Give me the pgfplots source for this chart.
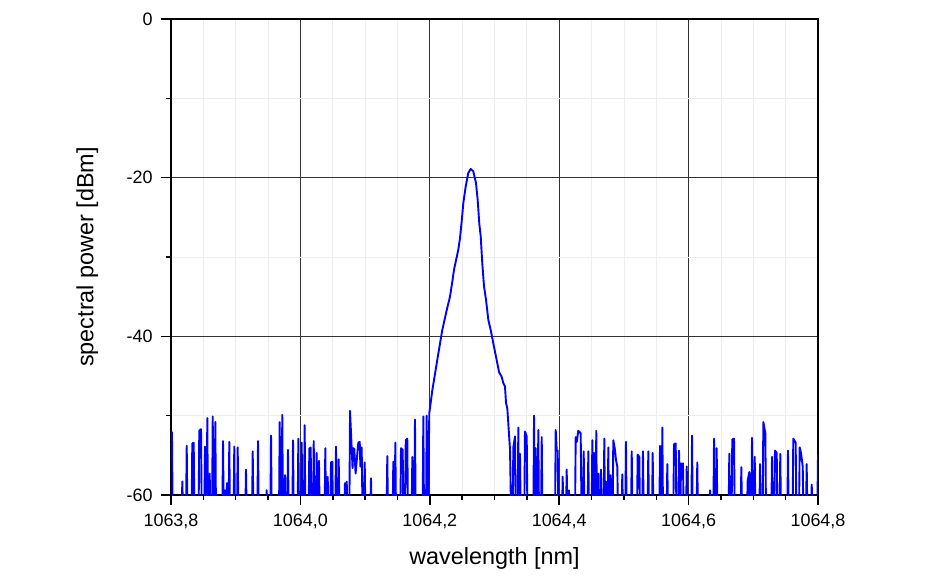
\documentclass[border=0pt]{standalone}
\usepackage{pgfplots}
\pgfplotsset{compat=1.18}
\usepackage{fontspec}
\setmainfont{Liberation Sans}
\definecolor{spec}{RGB}{0,0,255}
\begin{document}
\begin{tikzpicture}
\useasboundingbox (0,0) rectangle (950bp,578bp);
\begin{axis}[
  at={(171bp,83bp)}, anchor=south west,
  scale only axis, width=647bp, height=476bp,
  xmin=1063.8, xmax=1064.8, ymin=-60, ymax=0,
  xtick={1063.8,1064.0,1064.2,1064.4,1064.6,1064.8},
  xticklabels={{1063,8},{1064,0},{1064,2},{1064,4},{1064,6},{1064,8}},
  ytick={-60,-40,-20,0}, yticklabels={-60,-40,-20,0},
  minor x tick num=3, minor y tick num=1,
  grid=both,
  major grid style={black!80, line width=0.9bp},
  minor grid style={black!7, line width=0.8bp},
  tick align=outside, tick pos=left,
  major tick length=10bp, minor tick length=5bp,
  every tick/.style={black, line width=1.5bp},
  axis line style={line width=1.7bp},
  ticklabel style={font=\fontsize{18}{21}\selectfont},
  xticklabel style={yshift=-5bp},
  yticklabel style={xshift=-5bp},
  xlabel={wavelength [nm]}, ylabel={spectral power [dBm]},
  label style={font=\fontsize{23.5}{27}\selectfont},
  xlabel style={at={(axis description cs:0.5,-0.145)}, anchor=base},
  ylabel style={at={(axis description cs:-0.1201,0.5)}, anchor=base},
]
\addplot[spec, line width=1.9bp, line join=round] coordinates {
(1063.8015,-52.0)(1063.8025,-62)
(1063.8165,-62)(1063.8175,-58.3)(1063.8185,-62)
(1063.8233,-62)(1063.8243,-53.8)(1063.8253,-62)
(1063.8319,-62)(1063.8329,-53.5)(1063.8351,-53.4)(1063.8361,-62)
(1063.8427,-62)(1063.8437,-51.9)(1063.8464,-51.7)(1063.8474,-62)
(1063.8516,-62)(1063.8526,-53.9)(1063.8536,-62)
(1063.8551,-62)(1063.8561,-50.3)(1063.8571,-62)
(1063.8588,-62)(1063.8598,-57.3)(1063.8608,-62)
(1063.8635,-62)(1063.8645,-50.1)(1063.8655,-62)
(1063.8675,-62)(1063.8685,-50.8)(1063.8695,-62)
(1063.8794,-62)(1063.8804,-53.2)(1063.8814,-62)
(1063.8825,-62)(1063.8835,-59.4)(1063.8845,-62)
(1063.8856,-62)(1063.8866,-58.5)(1063.8876,-62)
(1063.8891,-62)(1063.8901,-53.3)(1063.8911,-62)
(1063.8968,-62)(1063.8978,-53.9)(1063.8988,-62)
(1063.9021,-62)(1063.9031,-54.0)(1063.9041,-62)
(1063.9149,-62)(1063.9159,-56.8)(1063.9169,-62)
(1063.9253,-62)(1063.9263,-54.5)(1063.9273,-62)
(1063.9335,-62)(1063.9345,-53.2)(1063.9355,-62)
(1063.9469,-62)(1063.9479,-59.4)(1063.9489,-62)
(1063.9536,-62)(1063.9546,-52.5)(1063.9556,-62)
(1063.9670,-62)(1063.9680,-50.8)(1063.9690,-62)
(1063.9710,-62)(1063.9720,-49.9)(1063.9730,-62)
(1063.9752,-62)(1063.9762,-57.5)(1063.9772,-62)
(1063.9798,-62)(1063.9808,-54.3)(1063.9818,-62)
(1063.9876,-62)(1063.9886,-53.1)(1063.9896,-62)
(1063.9958,-62)(1063.9968,-52.9)(1063.9978,-62)
(1064.0010,-62)(1064.0020,-53.4)(1064.0030,-62)
(1064.0056,-62)(1064.0066,-51.2)(1064.0076,-62)
(1064.0128,-62)(1064.0138,-54.1)(1064.0148,-57)(1064.0159,-54.0)(1064.0169,-62)
(1064.0196,-62)(1064.0206,-53.2)(1064.0216,-62)
(1064.0242,-62)(1064.0252,-54.7)(1064.0262,-62)
(1064.0277,-62)(1064.0287,-55.7)(1064.0297,-62)
(1064.0375,-62)(1064.0385,-54.1)(1064.0395,-62)
(1064.0412,-62)(1064.0422,-57.7)(1064.0432,-62)
(1064.0463,-62)(1064.0473,-55.9)(1064.0493,-55.8)(1064.0503,-62)
(1064.0540,-62)(1064.0550,-53.9)(1064.0560,-62)
(1064.0582,-62)(1064.0592,-55.5)(1064.0602,-62)
(1064.0679,-62)(1064.0689,-58.5)(1064.0699,-62)
(1064.0706,-62)(1064.0716,-58.3)(1064.0726,-62)
(1064.0757,-62)(1064.0767,-49.4)(1064.0806,-56.6)(1064.0818,-54.1)(1064.0833,-54.2)(1064.0853,-57.3)(1064.0895,-53.4)(1064.0917,-53.3)(1064.0927,-56.4)(1064.0947,-54.0)(1064.0960,-62)
(1064.0984,-62)(1064.0994,-55.9)(1064.1004,-62)
(1064.1081,-62)(1064.1091,-57.9)(1064.1101,-62)
(1064.1333,-62)(1064.1343,-55.1)(1064.1353,-62)
(1064.1426,-62)(1064.1436,-55.8)(1064.1446,-62)
(1064.1457,-62)(1064.1467,-53.4)(1064.1477,-62)
(1064.1545,-62)(1064.1555,-54.1)(1064.1581,-54.3)(1064.1591,-62)
(1064.1618,-62)(1064.1628,-53.1)(1064.1652,-52.9)(1064.1662,-62)
(1064.1720,-62)(1064.1730,-55.2)(1064.1740,-62)
(1064.1761,-62)(1064.1771,-50.5)(1064.1781,-62)
(1064.1890,-62)(1064.1900,-50.1)(1064.1910,-62)
(1064.1942,-62)(1064.1952,-50.0)(1064.1962,-62)
(1064.1975,-62)(1064.1985,-54.5)(1064.1992,-49.7)(1064.2039,-46.8)(1064.2107,-43.4)(1064.2158,-40.9)(1064.2193,-39.2)(1064.2261,-36.7)(1064.2312,-35.0)(1064.2348,-33.1)(1064.2374,-31.6)(1064.2440,-29.1)(1064.2467,-27.6)(1064.2493,-25.5)(1064.2518,-23.2)(1064.2555,-21.1)(1064.2595,-19.4)(1064.2632,-18.9)(1064.2672,-19.2)(1064.2714,-20.7)(1064.2740,-22.8)(1064.2765,-25.8)(1064.2787,-27.4)(1064.2811,-30.8)(1064.2838,-33.7)(1064.2869,-35.4)(1064.2904,-37.9)(1064.2941,-39.2)(1064.2992,-41.3)(1064.3034,-43.0)(1064.3070,-44.5)(1064.3111,-45.1)(1064.3136,-45.9)(1064.3162,-46.3)(1064.3178,-48.4)(1064.3198,-49.1)(1064.3240,-54.3)(1064.3255,-62)
(1064.3281,-62)(1064.3291,-54.0)(1064.3317,-52.6)(1064.3327,-62)
(1064.3358,-62)(1064.3368,-51.5)(1064.3378,-62)
(1064.3384,-62)(1064.3394,-54.8)(1064.3404,-62)
(1064.3461,-62)(1064.3471,-52.0)(1064.3498,-52.6)(1064.3508,-62)
(1064.3601,-62)(1064.3611,-50.0)(1064.3621,-62)
(1064.3627,-62)(1064.3637,-54.1)(1064.3647,-62)
(1064.3667,-62)(1064.3677,-51.8)(1064.3687,-62)
(1064.3720,-62)(1064.3730,-52.7)(1064.3740,-62)
(1064.3936,-62)(1064.3946,-51.8)(1064.3962,-54.4)(1064.3977,-54.4)(1064.3987,-62)
(1064.4044,-62)(1064.4054,-57.7)(1064.4064,-62)
(1064.4106,-62)(1064.4116,-56.8)(1064.4126,-62)
(1064.4141,-62)(1064.4151,-59.4)(1064.4161,-62)
(1064.4245,-62)(1064.4255,-52.7)(1064.4272,-53.3)(1064.4295,-51.9)(1064.4332,-52.2)(1064.4345,-62)
(1064.4369,-62)(1064.4379,-54.5)(1064.4389,-62)
(1064.4440,-62)(1064.4450,-54.5)(1064.4460,-62)
(1064.4502,-62)(1064.4512,-53.1)(1064.4522,-62)
(1064.4528,-62)(1064.4538,-54.7)(1064.4548,-62)
(1064.4563,-62)(1064.4573,-51.9)(1064.4583,-62)
(1064.4594,-62)(1064.4604,-57.3)(1064.4614,-62)
(1064.4636,-62)(1064.4646,-56.8)(1064.4656,-62)
(1064.4687,-62)(1064.4697,-52.9)(1064.4707,-62)
(1064.4713,-62)(1064.4723,-58.3)(1064.4733,-62)
(1064.4749,-62)(1064.4759,-54.0)(1064.4769,-62)
(1064.4786,-62)(1064.4796,-57.5)(1064.4806,-62)
(1064.4826,-62)(1064.4836,-53.1)(1064.4860,-54.2)(1064.4878,-55.6)(1064.4898,-56.4)(1064.4908,-62)
(1064.4965,-62)(1064.4975,-57.4)(1064.4985,-62)
(1064.5022,-62)(1064.5032,-53.3)(1064.5042,-62)
(1064.5111,-62)(1064.5121,-54.5)(1064.5131,-62)
(1064.5203,-62)(1064.5213,-54.9)(1064.5238,-55.2)(1064.5248,-62)
(1064.5285,-62)(1064.5295,-54.5)(1064.5305,-62)
(1064.5367,-62)(1064.5377,-54.5)(1064.5387,-62)
(1064.5435,-62)(1064.5445,-54.7)(1064.5455,-62)
(1064.5548,-62)(1064.5558,-53.8)(1064.5568,-62)
(1064.5584,-62)(1064.5594,-51.5)(1064.5604,-62)
(1064.5661,-62)(1064.5671,-56.1)(1064.5681,-62)
(1064.5764,-62)(1064.5774,-53.6)(1064.5801,-53.5)(1064.5811,-62)
(1064.5842,-62)(1064.5852,-54.4)(1064.5862,-62)
(1064.5873,-62)(1064.5883,-56.0)(1064.5898,-57.5)(1064.5913,-56.0)(1064.5923,-62)
(1064.5961,-62)(1064.5971,-56.4)(1064.5981,-62)
(1064.6043,-62)(1064.6053,-52.5)(1064.6063,-62)
(1064.6124,-62)(1064.6134,-55.9)(1064.6144,-62)
(1064.6321,-62)(1064.6331,-59.4)(1064.6341,-62)
(1064.6383,-62)(1064.6393,-52.9)(1064.6403,-62)
(1064.6424,-62)(1064.6434,-54.1)(1064.6444,-62)
(1064.6619,-62)(1064.6629,-54.8)(1064.6639,-62)
(1064.6665,-62)(1064.6675,-53.0)(1064.6702,-52.9)(1064.6712,-62)
(1064.6805,-62)(1064.6815,-56.5)(1064.6825,-62)
(1064.6903,-62)(1064.6913,-58.2)(1064.6938,-57.1)(1064.6948,-62)
(1064.6970,-62)(1064.6980,-52.8)(1064.6990,-62)
(1064.7012,-62)(1064.7022,-55.2)(1064.7032,-62)
(1064.7094,-62)(1064.7104,-56.1)(1064.7114,-62)
(1064.7145,-62)(1064.7155,-50.8)(1064.7186,-52.2)(1064.7196,-62)
(1064.7279,-62)(1064.7289,-55.2)(1064.7299,-62)
(1064.7325,-62)(1064.7335,-54.4)(1064.7362,-54.7)(1064.7372,-62)
(1064.7407,-62)(1064.7417,-54.8)(1064.7427,-62)
(1064.7526,-62)(1064.7536,-54.4)(1064.7546,-62)
(1064.7608,-62)(1064.7618,-52.9)(1064.7655,-53.4)(1064.7665,-62)
(1064.7707,-62)(1064.7717,-54.0)(1064.7737,-54.7)(1064.7764,-56.4)(1064.7774,-62)
(1064.7815,-62)(1064.7825,-56.1)(1064.7835,-62)
(1064.7893,-62)(1064.7903,-58.7)(1064.7913,-62)
(1064.7990,-62)(1064.8000,-54.9)
};
\end{axis}
\end{tikzpicture}
\end{document}
